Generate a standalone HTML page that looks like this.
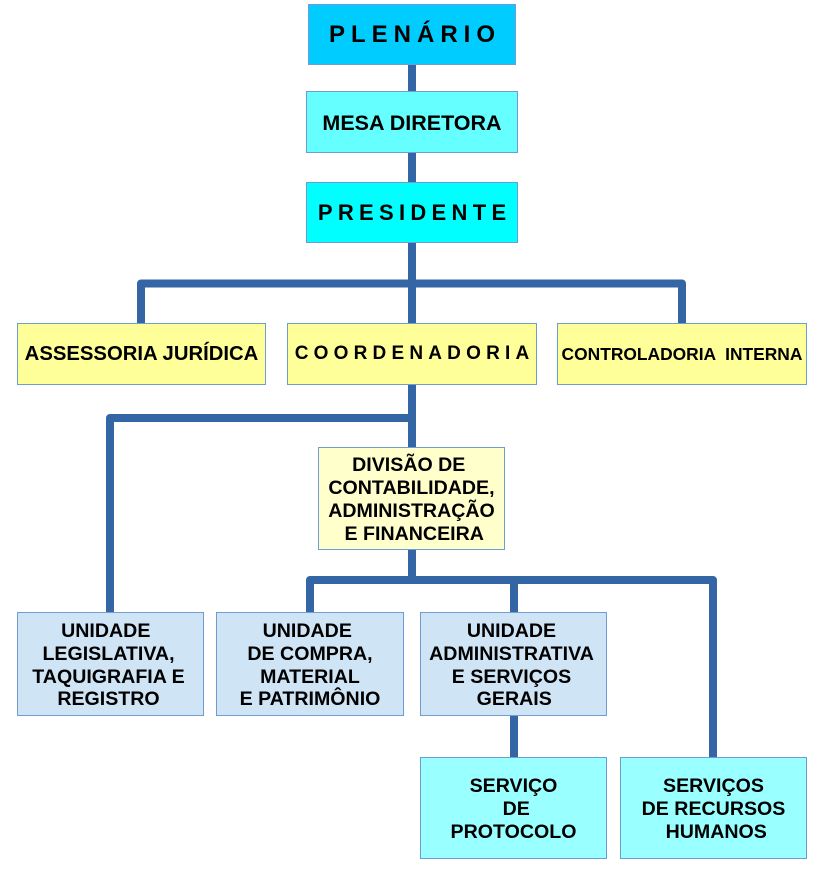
<!DOCTYPE html>
<html>
<head>
<meta charset="utf-8">
<style>
  html, body { margin:0; padding:0; background:#ffffff; }
  body { width:832px; height:869px; position:relative; overflow:hidden;
         font-family:"Liberation Sans", Arial, sans-serif; font-weight:bold; color:#000; }
  svg { position:absolute; left:0; top:0; }
  .b { position:absolute; box-sizing:border-box; border:1px solid #6f9cd3;
       display:flex; align-items:center; justify-content:center; text-align:center;
       white-space:pre; }
  .m { font-size:19.6px; line-height:22.8px; padding-top:3px; }
</style>
</head>
<body>
<svg width="832" height="869" viewBox="0 0 832 869">
  <g fill="none" stroke="#3465a4" stroke-width="8" stroke-linejoin="round">
    <path d="M412,60 V95"/>
    <path d="M412,148 V187"/>
    <path d="M412,238 V328"/>
    <path d="M141,328 V283.5 H682 V328"/>
    <path d="M412,380 V452"/>
    <path d="M110,617 V418 H412"/>
    <path d="M412,545 V580"/>
    <path d="M310,617 V580 H713 V762"/>
    <path d="M514,580 V617"/>
    <path d="M514,711 V762"/>
  </g>
</svg>

<div class="b" style="left:308px;top:4px;width:208px;height:61px;background:#00ccff;font-size:24px;letter-spacing:6px;padding-left:6px;">PLENÁRIO</div>
<div class="b" style="left:306px;top:91px;width:212px;height:62px;background:#66ffff;font-size:21.5px;padding-top:2px;">MESA DIRETORA</div>
<div class="b" style="left:306px;top:182px;width:212px;height:61px;background:#00ffff;font-size:22px;letter-spacing:5.3px;padding-left:5.3px;padding-top:1px;">PRESIDENTE</div>

<div class="b" style="left:17px;top:323px;width:249px;height:62px;background:#ffff99;font-size:20.3px;">ASSESSORIA JURÍDICA</div>
<div class="b" style="left:287px;top:323px;width:250px;height:62px;background:#ffff99;font-size:19px;letter-spacing:5.2px;padding-left:5.2px;">COORDENADORIA</div>
<div class="b" style="left:557px;top:323px;width:250px;height:62px;background:#ffff99;font-size:17.4px;">CONTROLADORIA  INTERNA</div>

<div class="b m" style="left:318px;top:447px;width:187px;height:103px;background:#ffffcc;">DIVISÃO DE 
CONTABILIDADE,
ADMINISTRAÇÃO
 E FINANCEIRA</div>

<div class="b m" style="left:17px;top:612px;width:187px;height:104px;background:#cfe5f5;padding-right:4px;">UNIDADE 
LEGISLATIVA,
TAQUIGRAFIA E
REGISTRO</div>
<div class="b m" style="left:216px;top:612px;width:188px;height:104px;background:#cfe5f5;">UNIDADE 
DE COMPRA,
MATERIAL
E PATRIMÔNIO</div>
<div class="b m" style="left:420px;top:612px;width:187px;height:104px;background:#cfe5f5;padding-right:4px;">UNIDADE
ADMINISTRATIVA
E SERVIÇOS
 GERAIS</div>

<div class="b m" style="left:420px;top:757px;width:187px;height:102px;background:#99ffff;">SERVIÇO
 DE
PROTOCOLO</div>
<div class="b m" style="left:620px;top:757px;width:187px;height:102px;background:#99ffff;">SERVIÇOS
DE RECURSOS
 HUMANOS</div>
</body>
</html>
